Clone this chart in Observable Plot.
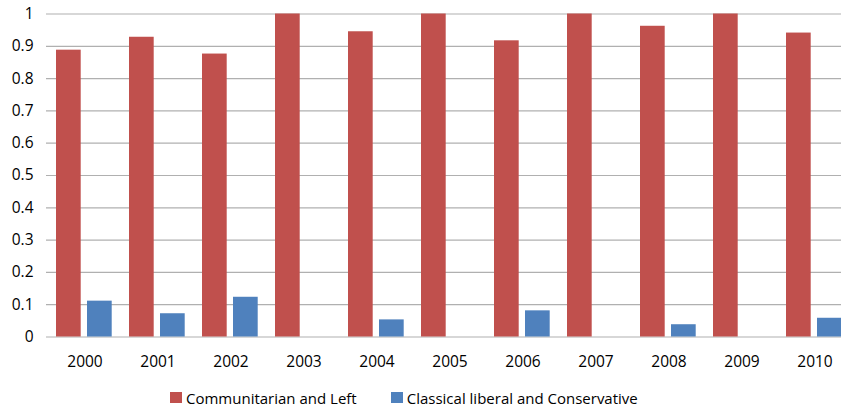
<!DOCTYPE html>
<html>
<head>
<meta charset="utf-8">
<script src="https://cdn.jsdelivr.net/npm/d3@7"></script>
<script src="https://cdn.jsdelivr.net/npm/@observablehq/plot@0.6"></script>
<style>
  html, body { margin: 0; padding: 0; background: #fff; overflow: hidden; }
  body { width: 841px; height: 415px; font-family: "Open Sans", sans-serif; color: #000; }
  #chart svg { display: block; }
  #legend { display: flex; align-items: center; height: 35px; padding-left: 170px; font-size: 15px; }
  .item { display: flex; align-items: center; }
  .item + .item { margin-left: 34px; }
  .swatch { width: 12px; height: 11px; margin-right: 4px; }
</style>
</head>
<body>
<div id="chart"></div>
<div id="legend"></div>
<script>
// Share of each ideological group by year
const years = ["2000", "2001", "2002", "2003", "2004", "2005", "2006", "2007", "2008", "2009", "2010"];
const communitarian = [0.888, 0.928, 0.876, 1.0, 0.945, 1.0, 0.917, 1.0, 0.962, 1.0, 0.941];
const classical = [0.111, 0.072, 0.123, 0, 0.053, 0, 0.081, 0, 0.038, 0, 0.058];
const yTicks = [0, 0.1, 0.2, 0.3, 0.4, 0.5, 0.6, 0.7, 0.8, 0.9, 1];
const seriesNames = ["Communitarian and Left", "Classical liberal and Conservative"];
const seriesColors = ["#C0504D", "#4F81BD"];

const rows = years.map((year, i) => ({year, left: communitarian[i], right: classical[i]}));

const chart = Plot.plot({
  width: 841,
  height: 380,
  marginTop: 13.5,
  marginBottom: 43.5,
  marginLeft: 46,
  marginRight: -11,
  style: {fontFamily: "'Open Sans', sans-serif", fontSize: "15.5px", color: "#000", background: "#fff"},
  x: {type: "band", domain: years, padding: 0},
  y: {domain: [0, 1]},
  marks: [
    Plot.ruleY(yTicks, {stroke: "#b0b0b0", strokeWidth: 1.2}),
    Plot.barY(rows, {x: "year", y: "left", fill: seriesColors[0], insetLeft: 8, insetRight: 40.3}),
    Plot.barY(rows, {x: "year", y: "right", fill: seriesColors[1], insetLeft: 39, insetRight: 9.3}),
    Plot.axisY({ticks: yTicks, tickSize: 0, tickPadding: 13, label: null, fontSize: 15.5, tickFormat: (d) => String(d)}),
    Plot.axisX({tickSize: 0, tickPadding: 19, label: null, fontSize: 15.5})
  ]
});
document.getElementById("chart").append(chart);

const legend = d3.select("#legend");
seriesNames.forEach((name, i) => {
  const item = legend.append("div").attr("class", "item");
  item.append("div").attr("class", "swatch").style("background", seriesColors[i]);
  item.append("span").text(name);
});
</script>
</body>
</html>
